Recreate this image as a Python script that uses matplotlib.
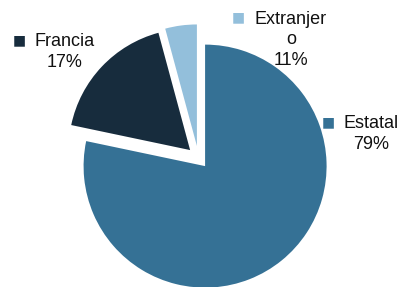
import matplotlib
matplotlib.use('Agg')
import matplotlib.pyplot as plt

plt.rcParams['font.family'] = ['Liberation Sans', 'DejaVu Sans']

categories = ['Estatal', 'Francia', 'Extranjero']
shares = [78.3, 17.5, 4.2]          # slice sizes as drawn
pct_labels = ['79%', '17%', '11%']  # percentages as printed on the chart
colors = ['#357195', '#172c3d', '#93bfdb']
explode = [0.086, 0.095, 0.1]

W, H = 402, 287
cx, cy, r = 198.5, 158, 121.5  # pie centre / radius in pixels

fig = plt.figure(figsize=(W / 100, H / 100), dpi=100)
ax = fig.add_axes([0, 0, 1, 1])
ax.pie(shares, colors=colors, startangle=90, counterclock=False,
       explode=explode, radius=1,
       wedgeprops=dict(linewidth=0))
ax.set_xlim(-cx / r, (W - cx) / r)
ax.set_ylim(-(H - cy) / r, cy / r)
ax.set_aspect('equal')
ax.axis('off')

# label blocks: (key square x, y), (text centre x, y) in pixels
label_pos = {
    'Estatal': ((328, 122), (371, 134), 'Estatal'),
    'Francia': ((19, 40), (65, 52), 'Francia'),
    'Extranjero': ((238, 17), (291, 40), 'Extranjer\no'),
}
for name, pct, col in zip(categories, pct_labels, colors):
    (kx, ky), (tx, ty), txt = label_pos[name]
    fig.text(kx / W, 1 - ky / H, '\u25A0', color=col, fontsize=10,
             ha='center', va='center', family='DejaVu Sans')
    fig.text(tx / W, 1 - ty / H, f'{txt}\n{pct}', color='#111111',
             fontsize=13, ha='center', va='center', linespacing=1.25,
             multialignment='center')

fig.savefig('out.png', dpi=100)
